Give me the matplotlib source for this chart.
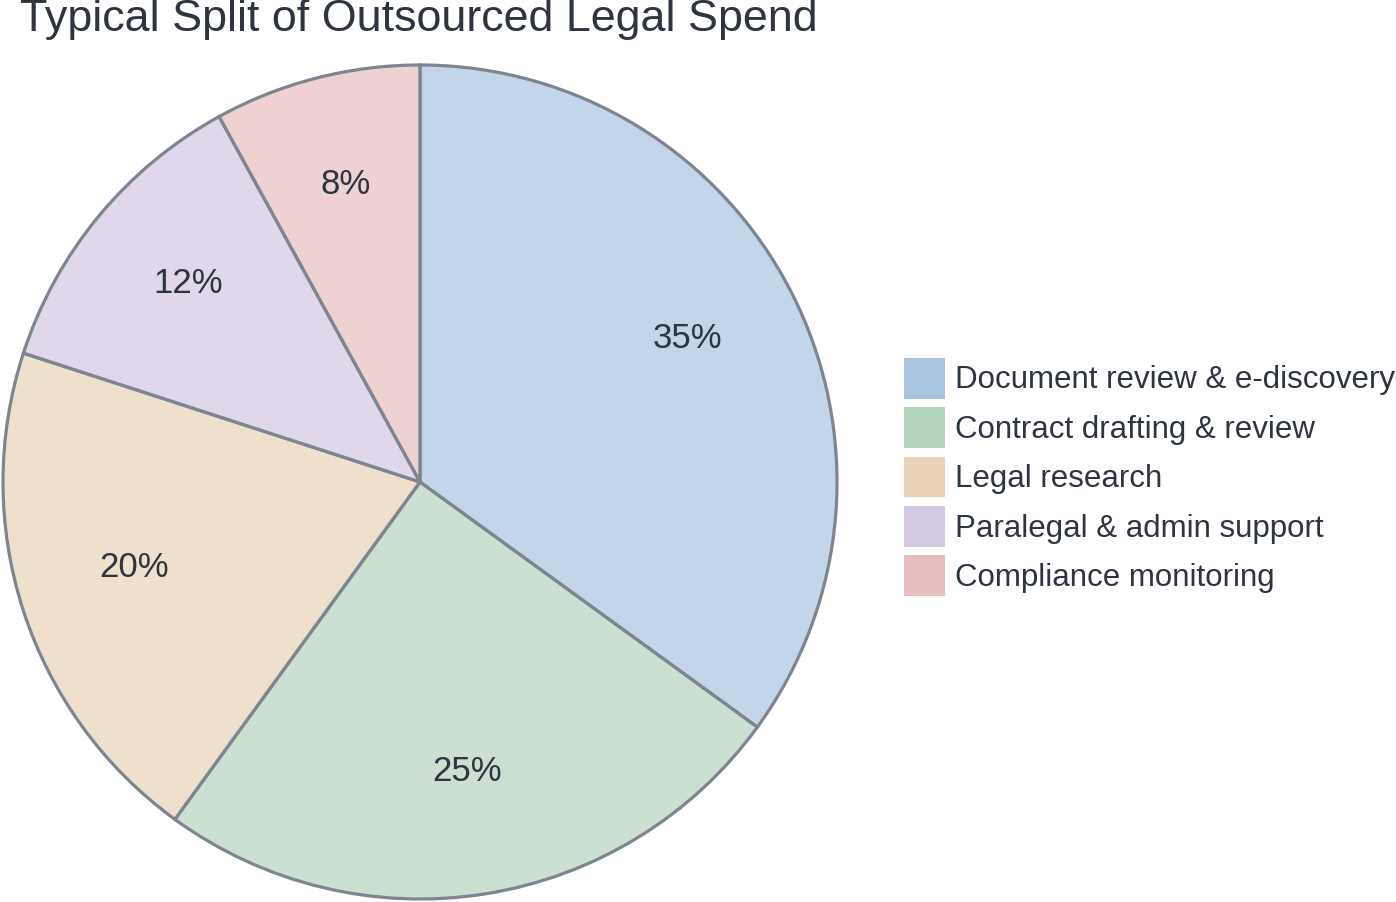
import matplotlib.pyplot as plt
import matplotlib.transforms as mtransforms
from matplotlib.colors import to_rgba
from matplotlib.patches import Patch

labels = ["Document review & e-discovery", "Contract drafting & review",
          "Legal research", "Paralegal & admin support", "Compliance monitoring"]
shares = [35, 25, 20, 12, 8]
colors = ["#A8C4E0", "#B5D4BE", "#E8D3B8", "#D3C8E2", "#E8BFC0"]

W, H = 1396, 902
fig = plt.figure(figsize=(W / 100, H / 100), dpi=100)
cx, cy, r = 420, 482, 417
ax = fig.add_axes([(cx - r) / W, (H - cy - r) / H, 2 * r / W, 2 * r / H])

faces = [to_rgba(c, 0.7) for c in colors]
wedges, texts, autotexts = ax.pie(
    shares, colors=faces, startangle=90, counterclock=False,
    autopct="%d%%", pctdistance=0.72, radius=1,
    wedgeprops=dict(edgecolor="#7E8591", linewidth=2.3),
    textprops=dict(fontsize=25, color="#2E3440", family="Liberation Sans"))
# nudge the percent labels up a little
shift = mtransforms.offset_copy(ax.transData, fig=fig, x=0, y=7, units="dots")
for t in autotexts:
    t.set_transform(shift)
ax.set_xlim(-1.0, 1.0)
ax.set_ylim(-1.0, 1.0)
ax.set_aspect("equal")

fig.text(20 / W, 1 - 19 / H, "Typical Split of Outsourced Legal Spend",
         fontsize=32.3, color="#2E3440", family="Liberation Sans",
         va="center", ha="left")

handles = [Patch(facecolor=c, edgecolor="none") for c in colors]
fig.legend(handles, labels, loc="center left", bbox_to_anchor=(904 / W, 1 - 477 / H),
           frameon=False, prop=dict(family="Liberation Sans", size=22.5),
           labelcolor="#2E3440", handlelength=1.31, handleheight=1.64,
           handletextpad=0.32, labelspacing=0.27, borderaxespad=0, borderpad=0)

fig.savefig("out.png", dpi=100)
